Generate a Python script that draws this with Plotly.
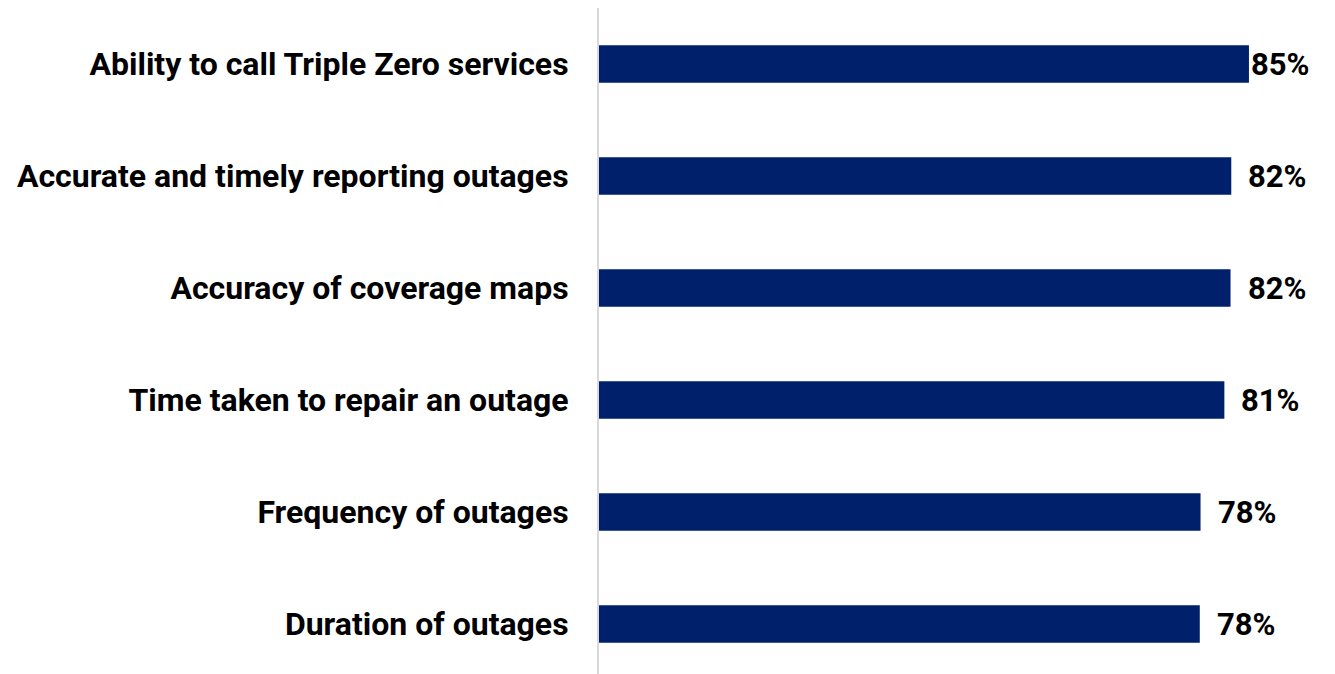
import plotly.graph_objects as go

categories = [
    "Ability to call Triple Zero services",
    "Accurate and timely reporting outages",
    "Accuracy of coverage maps",
    "Time taken to repair an outage",
    "Frequency of outages",
    "Duration of outages",
]
values = [84.6, 82.3, 82.2, 81.4, 78.3, 78.2]
value_labels = ["85%", "82%", "82%", "81%", "78%", "78%"]

BAR_COLOR = "#00206C"
FONT = "Roboto"

fig = go.Figure()
fig.add_trace(go.Bar(
    x=values,
    y=categories,
    orientation="h",
    marker=dict(color=BAR_COLOR, line=dict(width=0)),
    width=0.335,
    hoverinfo="skip",
))

vmax = max(values)
for cat, v, lab in zip(categories, values, value_labels):
    fig.add_annotation(
        x=v, y=cat, text=f"<b>{lab}</b>",
        xanchor="left", yanchor="middle",
        xshift=0 if v == vmax else 15,
        showarrow=False,
        font=dict(family=FONT, size=31, color="#000000"),
    )

fig.update_layout(
    width=1327, height=666,
    margin=dict(l=591, r=0, t=0, b=0),
    paper_bgcolor="white",
    plot_bgcolor="white",
    showlegend=False,
    font=dict(family=FONT, color="#000000"),
    xaxis=dict(range=[0, 95.8], visible=False, showgrid=False, zeroline=False),
    yaxis=dict(
        type="category",
        categoryorder="array",
        categoryarray=categories,
        range=[5.446, -0.5],
        showline=True,
        linecolor="#D9D9D9",
        linewidth=2,
        showgrid=False,
        zeroline=False,
        ticks="outside",
        ticklen=22,
        tickcolor="rgba(0,0,0,0)",
        tickfont=dict(family=FONT, size=32, color="#000000", weight="bold"),
    ),
)

fig.write_html("out.html")
